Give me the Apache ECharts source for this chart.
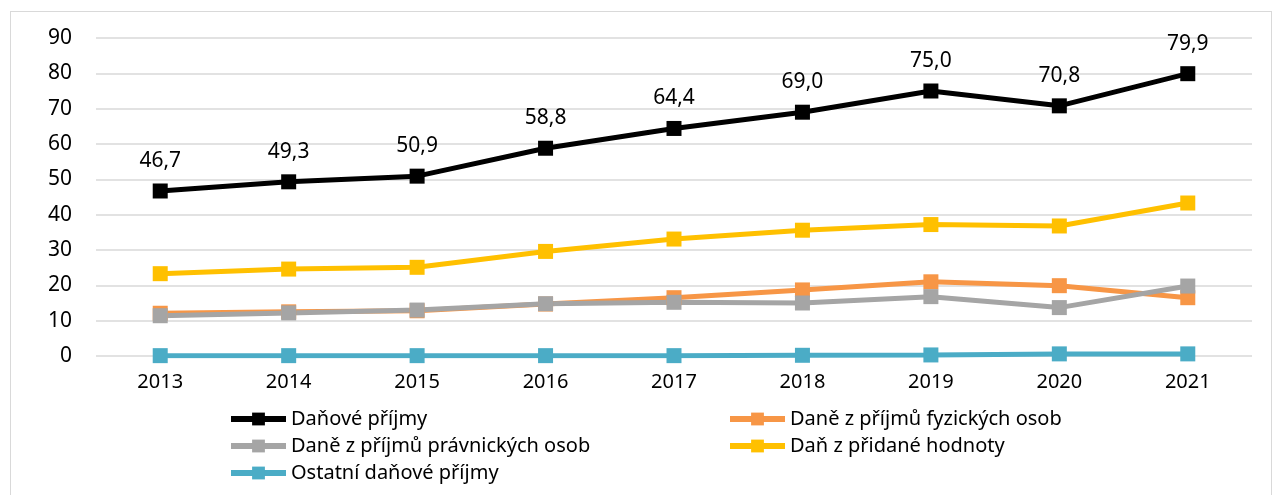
<!DOCTYPE html>
<html>
<head>
<meta charset="utf-8">
<script src="https://cdn.jsdelivr.net/npm/echarts@6/dist/echarts.min.js"></script>
<style>
  html, body { margin: 0; padding: 0; background: #fff; }
  #chart { width: 1281px; height: 495px; }
  .frame { position: absolute; left: 10px; top: 11px; width: 1262px; height: 490px; border: 1px solid #d9d9d9; box-sizing: border-box; }
</style>
</head>
<body>
<div class="frame"></div>
<div id="chart"></div>
<script>
  // roky
  const years = ['2013', '2014', '2015', '2016', '2017', '2018', '2019', '2020', '2021']
  // hodnoty jednotlivých řad
  const danovePrijmy = [46.7, 49.3, 50.9, 58.8, 64.4, 69.0, 75.0, 70.8, 79.9]
  const daneFO = [12.1, 12.5, 12.8, 14.7, 16.5, 18.7, 21.0, 19.9, 16.5]
  const danePO = [11.4, 12.2, 13.0, 14.8, 15.2, 15.0, 16.8, 13.7, 19.8]
  const dph = [23.3, 24.6, 25.1, 29.6, 33.1, 35.6, 37.2, 36.8, 43.3]
  const ostatni = [0.1, 0.1, 0.1, 0.1, 0.1, 0.2, 0.3, 0.6, 0.6]

  const font = '"Noto Sans", sans-serif'
  const chart = echarts.init(document.getElementById('chart'))

  function line (name, data, color, labels) {
    return {
      name: name,
      type: 'line',
      data: data,
      symbol: 'rect',
      symbolSize: 15,
      lineStyle: { color: color, width: 5 },
      itemStyle: { color: color },
      label: labels ? {
        show: true,
        position: 'top',
        distance: 12,
        color: '#000',
        fontSize: 21,
        fontFamily: font,
        formatter: (p) => p.value.toFixed(1).replace('.', ',')
      } : { show: false },
      emphasis: { disabled: true },
      animation: false
    }
  }

  const legendText = { color: '#000', fontSize: 20, fontFamily: font }
  const legendBase = {
    orient: 'vertical',
    top: 404,
    itemWidth: 55,
    itemHeight: 16,
    itemGap: 7,
    lineStyle: { width: 6 },
    textStyle: legendText
  }

  chart.setOption({
    animation: false,
    grid: { left: 96, right: 29, top: 38, bottom: 139 },
    xAxis: {
      type: 'category',
      data: years,
      boundaryGap: true,
      axisLine: { show: false },
      axisTick: { show: false },
      axisLabel: { color: '#000', fontSize: 20, fontFamily: font, margin: 16 }
    },
    yAxis: {
      type: 'value',
      min: 0,
      max: 90,
      interval: 10,
      axisLine: { show: false },
      axisTick: { show: false },
      splitLine: { lineStyle: { color: '#d9d9d9', width: 1.5 } },
      axisLabel: { color: '#000', fontSize: 21, fontFamily: font, margin: 24 }
    },
    legend: [
      Object.assign({}, legendBase, {
        left: 223,
        data: ['Daňové příjmy', 'Daně z příjmů právnických osob', 'Ostatní daňové příjmy']
      }),
      Object.assign({}, legendBase, {
        left: 722,
        data: ['Daně z příjmů fyzických osob', 'Daň z přidané hodnoty']
      })
    ],
    series: [
      line('Ostatní daňové příjmy', ostatni, '#4bacc6', false),
      line('Daně z příjmů fyzických osob', daneFO, '#f79646', false),
      line('Daně z příjmů právnických osob', danePO, '#a5a5a5', false),
      line('Daň z přidané hodnoty', dph, '#ffc000', false),
      line('Daňové příjmy', danovePrijmy, '#000000', true)
    ]
  })
</script>
</body>
</html>
